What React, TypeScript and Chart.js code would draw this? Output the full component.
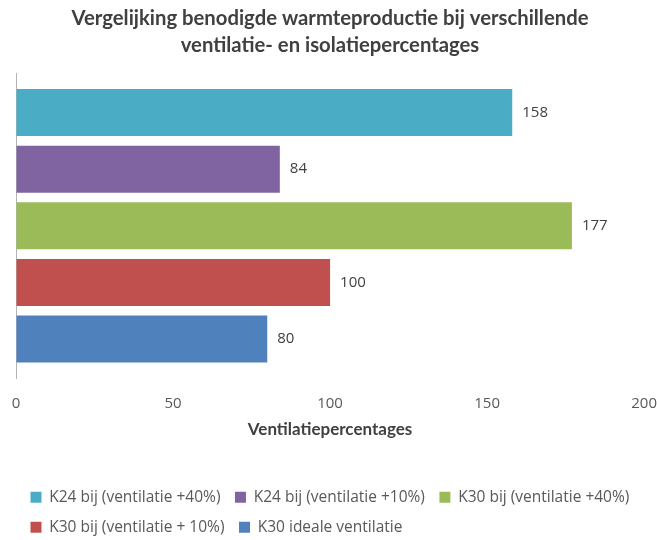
import React, { useEffect, useRef } from "react";
import { Chart, registerables } from "chart.js";

Chart.register(...registerables);

const titleLines = [
  "Vergelijking benodigde warmteproductie bij verschillende",
  "ventilatie- en isolatiepercentages",
];
const xAxisTitle = "Ventilatiepercentages";
const categories = [""];
const seriesNames = [
  "K24 bij (ventilatie +40%)",
  "K24 bij (ventilatie +10%)",
  "K30 bij (ventilatie +40%)",
  "K30 bij (ventilatie + 10%)",
  "K30 ideale ventilatie",
];
const seriesValues = [158, 84, 177, 100, 80];
const seriesColors = ["#4BACC6", "#8064A2", "#9BBB59", "#C0504D", "#4F81BD"];
const xTicks = [0, 50, 100, 150, 200];

const TITLE_FONT = "Lato, 'Open Sans', sans-serif";
const BODY_FONT = "'Open Sans', Lato, sans-serif";

const titlePlugin = {
  id: "offsetTitle",
  afterDraw(chart: any) {
    const ctx = chart.ctx;
    ctx.save();
    ctx.font = `bold 20.3px ${TITLE_FONT}`;
    ctx.fillStyle = "#404040";
    ctx.textAlign = "center";
    ctx.textBaseline = "middle";
    const cx = chart.width / 2 + 1.5;
    titleLines.forEach((line, i) => {
      ctx.fillText(line, cx, 18 + i * 27);
    });
    ctx.restore();
  },
};

const valueLabels = {
  id: "valueLabels",
  afterDatasetsDraw(chart: any) {
    const ctx = chart.ctx;
    ctx.save();
    ctx.font = `15px ${BODY_FONT}`;
    ctx.fillStyle = "#404040";
    ctx.textBaseline = "middle";
    ctx.textAlign = "left";
    chart.data.datasets.forEach((ds: any, i: number) => {
      const meta = chart.getDatasetMeta(i);
      meta.data.forEach((el: any, j: number) => {
        ctx.fillText(String(ds.data[j]), el.x + 10, el.y);
      });
    });
    ctx.restore();
  },
};

export default function App() {
  const ref = useRef<HTMLCanvasElement | null>(null);
  useEffect(() => {
    if (!ref.current) return;
    const chart = new Chart(ref.current, {
      type: "bar",
      data: {
        labels: categories,
        datasets: seriesNames.map((name, i) => ({
          label: name,
          data: [seriesValues[i]],
          backgroundColor: seriesColors[i],
          borderWidth: 0,
          categoryPercentage: 0.926,
          barPercentage: 0.83,
        })),
      },
      options: {
        indexAxis: "y",
        animation: false,
        responsive: true,
        maintainAspectRatio: false,
        layout: { padding: { left: 16, right: 0, top: 73, bottom: -5 } },
        scales: {
          x: {
            min: 0,
            max: 200,
            afterBuildTicks: (s: any) => {
              s.ticks = xTicks.map((v) => ({ value: v }));
            },
            grid: {
              display: true,
              drawOnChartArea: false,
              drawTicks: true,
              tickLength: 16,
              color: "rgba(0,0,0,0)",
            },
            border: { display: false },
            ticks: {
              color: "#595959",
              font: { family: BODY_FONT, size: 15 },
              padding: 0,
              maxRotation: 0,
            },
            title: {
              display: true,
              text: xAxisTitle,
              color: "#404040",
              font: { family: TITLE_FONT, size: 17, weight: "bold" },
              padding: { top: 7, bottom: 35 },
            },
          },
          y: {
            grid: { display: false, drawTicks: false },
            border: { display: true, color: "#B4B4B4", width: 1 },
            ticks: { display: false },
            afterFit: (s: any) => {
              s.width = 0;
            },
          },
        },
        plugins: {
          title: { display: false },
          legend: {
            position: "bottom",
            align: "start",
            labels: {
              boxWidth: 11,
              boxHeight: 11,
              padding: 14.5,
              color: "#595959",
              font: { family: BODY_FONT, size: 15.5 },
            },
          },
          tooltip: { enabled: false },
        },
      },
      plugins: [valueLabels, titlePlugin],
    } as any);
    return () => chart.destroy();
  }, []);
  return (
    <div style={{ position: "fixed", left: 0, top: 0, width: 657, height: 540, background: "#fff" }}>
      <canvas ref={ref} />
    </div>
  );
}
